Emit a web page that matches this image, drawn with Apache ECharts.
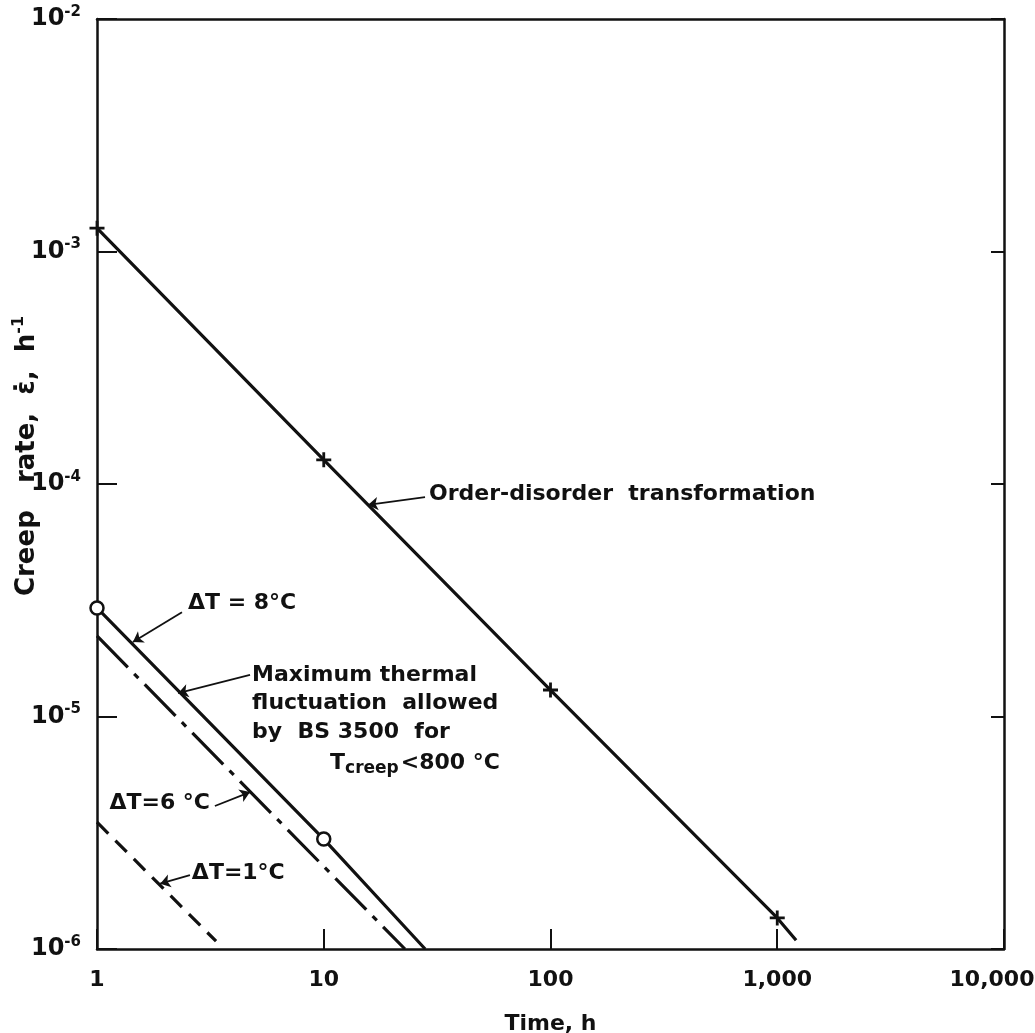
<!DOCTYPE html>
<html>
<head>
<meta charset="utf-8">
<script src="https://cdn.jsdelivr.net/npm/echarts@6/dist/echarts.min.js"></script>
<style>
  html, body { margin: 0; padding: 0; background: #fff; }
  #chart { width: 1035px; height: 1033px; }
</style>
</head>
<body>
<div id="chart"></div>
<script>
// creep rate vs time (log-log)
const xTickLabels = ['1', '10', '100', '1,000', '10,000'];
const yTickExps = [-6, -5, -4, -3, -2];

// order-disorder transformation, + markers at the decades
const orderTime = [1, 10, 100, 1000, 1211];
const orderRate = [1.26e-3, 1.27e-4, 1.30e-5, 1.36e-6, 1.09e-6];

// dT = 8 C, circles at 1 and 10 h
const dt8Time = [1, 10, 28];
const dt8Rate = [2.93e-5, 2.97e-6, 1.0e-6];

// dT = 6 C (dash-dot)
const dt6Time = [1, 22.8];
const dt6Rate = [2.22e-5, 1.0e-6];

// dT = 1 C (dashed)
const dt1Time = [1, 3.35];
const dt1Rate = [3.51e-6, 1.08e-6];

const FONT = '"DejaVu Sans", sans-serif';
const INK = '#111';
const PLUS = 'path://M6.5,0H9.5V6.5H16V9.5H9.5V16H6.5V9.5H0V6.5H6.5Z';

function pairs(xs, ys) {
  return xs.map((x, i) => [x, ys[i]]);
}

// arrows: [tail, tip] in data units
function arrows(list) {
  return {
    silent: true,
    symbol: ['none', 'arrow'],
    symbolSize: 10,
    label: { show: false },
    lineStyle: { color: INK, width: 1.8, type: 'solid' },
    emphasis: { disabled: true },
    data: list.map(a => [{ coord: a[0] }, { coord: a[1] }])
  };
}

const chart = echarts.init(document.getElementById('chart'));

const option = {
  animation: false,
  backgroundColor: '#fff',
  grid: { left: 97, right: 31, top: 19, bottom: 84, outerBoundsMode: 'none', containLabel: false },
  xAxis: [
    {
      type: 'log', logBase: 10, min: 1, max: 10000,
      position: 'bottom',
      axisLine: { lineStyle: { color: INK, width: 2.5 } },
      axisTick: { inside: true, length: 20, lineStyle: { color: INK, width: 2 } },
      axisLabel: {
        margin: 20, color: INK, fontFamily: FONT, fontSize: 22, fontWeight: 'bold',
        formatter: v => {
          const i = Math.round(Math.log10(v));
          // last label sits a little left of the corner
          return i === xTickLabels.length - 1 ? '{r|' + xTickLabels[i] + '}' : xTickLabels[i];
        },
        rich: {
          r: { fontFamily: FONT, fontSize: 22, fontWeight: 'bold', color: INK, padding: [0, 24, 0, 0] }
        }
      },
      splitLine: { show: false },
      name: 'Time, h', nameLocation: 'middle', nameGap: 64,
      nameTextStyle: { color: INK, fontFamily: FONT, fontSize: 22, fontWeight: 'bold' }
    },
    {
      type: 'log', logBase: 10, min: 1, max: 10000,
      position: 'top',
      axisLine: { lineStyle: { color: INK, width: 2.5 } },
      axisTick: { show: false },
      axisLabel: { show: false },
      splitLine: { show: false }
    }
  ],
  yAxis: [
    {
      type: 'log', logBase: 10, min: 1e-6, max: 1e-2,
      position: 'left',
      axisLine: { lineStyle: { color: INK, width: 2.5 } },
      axisTick: { inside: true, length: 20, lineStyle: { color: INK, width: 2 } },
      axisLabel: {
        margin: 16, color: INK, fontFamily: FONT,
        formatter: v => {
          const e = yTickExps[yTickExps.indexOf(Math.round(Math.log10(v)))];
          return '{b|10}{s|' + e + '}';
        },
        rich: {
          b: { fontFamily: FONT, fontSize: 24, fontWeight: 'bold', color: INK },
          s: { fontFamily: FONT, fontSize: 15, fontWeight: 'bold', color: INK, padding: [0, 0, 14, 0] }
        }
      },
      splitLine: { show: false }
    },
    {
      type: 'log', logBase: 10, min: 1e-6, max: 1e-2,
      position: 'right',
      axisLine: { lineStyle: { color: INK, width: 2.5 } },
      axisTick: { inside: true, length: 13, lineStyle: { color: INK, width: 2 } },
      axisLabel: { show: false },
      splitLine: { show: false }
    }
  ],
  series: [
    {
      name: 'Order-disorder transformation',
      type: 'line',
      data: pairs(orderTime, orderRate).map((p, i) =>
        i < orderTime.length - 1 ? { value: p } : { value: p, symbol: 'none' }),
      symbol: PLUS, symbolSize: 15,
      itemStyle: { color: INK },
      lineStyle: { color: INK, width: 3.2 },
      markLine: arrows([[[27.97, 8.79e-5], [15.67, 8.13e-5]]])
    },
    {
      name: 'dT = 8 C',
      type: 'line',
      data: pairs(dt8Time, dt8Rate).map((p, i) =>
        i < dt8Time.length - 1 ? { value: p } : { value: p, symbol: 'none' }),
      symbol: 'circle', symbolSize: 13,
      itemStyle: { color: '#fff', borderColor: INK, borderWidth: 2.5 },
      lineStyle: { color: INK, width: 3.2 },
      markLine: arrows([
        [[2.37, 2.81e-5], [1.44, 2.09e-5]],
        [[4.73, 1.51e-5], [2.28, 1.26e-5]]
      ])
    },
    {
      name: 'dT = 6 C',
      type: 'line',
      data: pairs(dt6Time, dt6Rate),
      symbol: 'none',
      lineStyle: { color: INK, width: 3.2, type: [44, 9, 6, 9] },
      markLine: arrows([[[3.31, 4.12e-6], [4.73, 4.73e-6]]])
    },
    {
      name: 'dT = 1 C',
      type: 'line',
      data: pairs(dt1Time, dt1Rate),
      symbol: 'none',
      lineStyle: { color: INK, width: 3.2, type: [16, 10] },
      markLine: arrows([[[2.57, 2.08e-6], [1.90, 1.91e-6]]])
    }
  ]
};

chart.setOption(option);

// text notes anchored in data units
const notes = [
  { at: [29.1, 9.06e-5], text: 'Order-disorder  transformation', align: 'left' },
  { at: [2.52, 3.08e-5], text: 'ΔT = 8°C', align: 'left' },
  { at: [4.83, 1.51e-5], text: 'Maximum thermal', align: 'left' },
  { at: [4.83, 1.14e-5], text: 'fluctuation  allowed', align: 'left' },
  { at: [4.83, 8.57e-6], text: 'by  BS 3500  for', align: 'left' },
  { at: [10.66, 6.3e-6], text: '{t|T}{c|creep}{t|<800 °C}', align: 'left' },
  { at: [3.15, 4.25e-6], text: 'ΔT=6 °C', align: 'right' },
  { at: [2.62, 2.12e-6], text: 'ΔT=1°C', align: 'left' }
];

const textRich = {
  t: { fontFamily: FONT, fontSize: 22, fontWeight: 'bold', fill: INK, color: INK },
  c: { fontFamily: FONT, fontSize: 17, fontWeight: 'bold', fill: INK, color: INK, padding: [10, 2, 0, 0] }
};

const graphic = notes.map(n => {
  const p = chart.convertToPixel({ gridIndex: 0 }, n.at);
  return {
    type: 'text', x: p[0], y: p[1], silent: true,
    style: {
      text: n.text, rich: textRich,
      fontFamily: FONT, fontSize: 22, fontWeight: 'bold', fill: INK,
      align: n.align, verticalAlign: 'middle'
    }
  };
});

graphic.push({
  type: 'text', x: 27, y: 456, rotation: Math.PI / 2, silent: true,
  style: {
    text: '{n|Creep   rate,  ε\u0307,  h}{s|-1}',
    rich: {
      n: { fontFamily: FONT, fontSize: 26, fontWeight: 'bold', fill: INK, color: INK },
      s: { fontFamily: FONT, fontSize: 16, fontWeight: 'bold', fill: INK, color: INK, padding: [0, 0, 16, 0] }
    },
    align: 'center', verticalAlign: 'middle'
  }
});

chart.setOption({ graphic: graphic });
</script>
</body>
</html>
